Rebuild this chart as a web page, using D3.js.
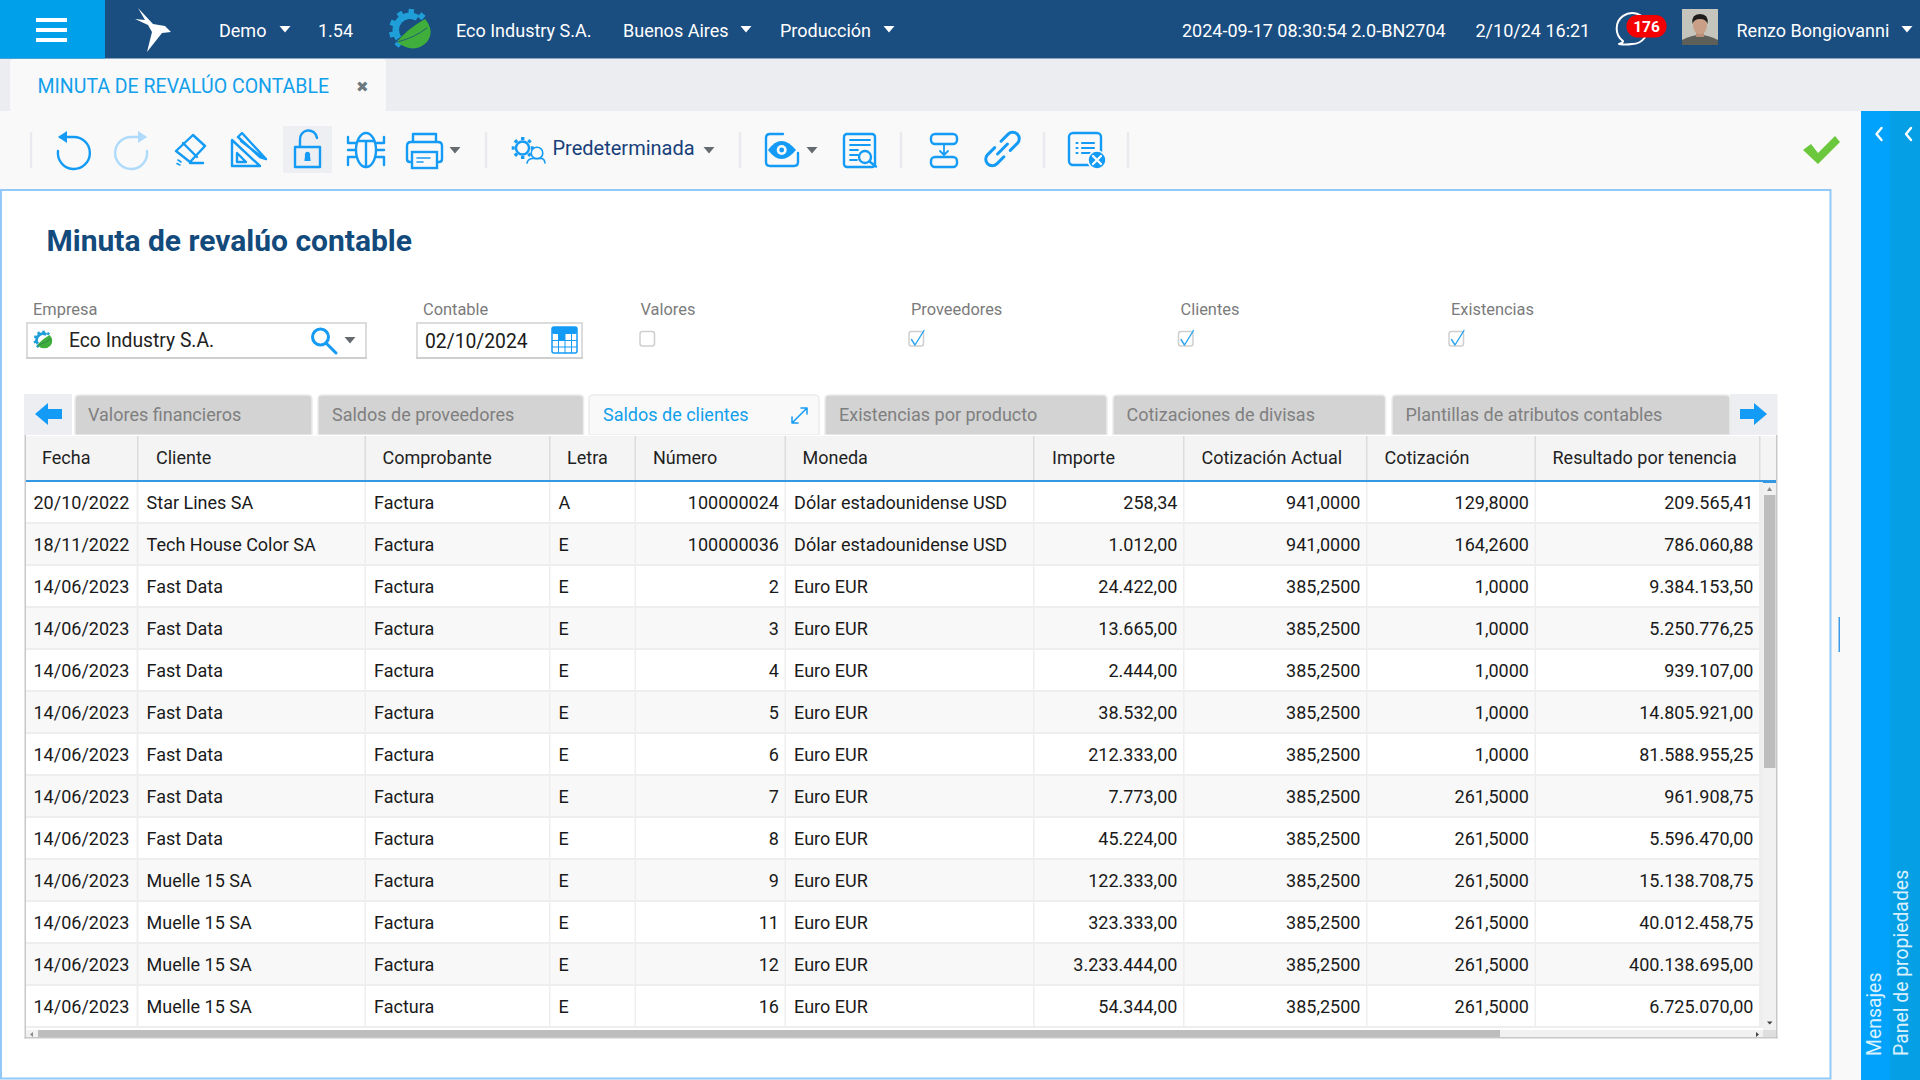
<!DOCTYPE html>
<html>
<head>
<meta charset="utf-8">
<title>Minuta de revalúo contable</title>
<script src="https://cdn.jsdelivr.net/npm/d3@7"></script>
<style>
    html, body { margin: 0; padding: 0; background: #fff; overflow: hidden; }
    svg { display: block; }
    text { font-family: Roboto, sans-serif; }
</style>
</head>
<body>
<svg id="screen" width="1920" height="1080"></svg>
<script>
// Table data.
let columns = ["Fecha", "Cliente", "Comprobante", "Letra", "Número", "Moneda", "Importe", "Cotización Actual", "Cotización", "Resultado por tenencia"];
let fechas = ["20/10/2022", "18/11/2022", "14/06/2023", "14/06/2023", "14/06/2023", "14/06/2023", "14/06/2023", "14/06/2023", "14/06/2023", "14/06/2023", "14/06/2023", "14/06/2023", "14/06/2023"];
let clientes = ["Star Lines SA", "Tech House Color SA", "Fast Data", "Fast Data", "Fast Data", "Fast Data", "Fast Data", "Fast Data", "Fast Data", "Muelle 15 SA", "Muelle 15 SA", "Muelle 15 SA", "Muelle 15 SA"];
let comprobantes = ["Factura", "Factura", "Factura", "Factura", "Factura", "Factura", "Factura", "Factura", "Factura", "Factura", "Factura", "Factura", "Factura"];
let letras = ["A", "E", "E", "E", "E", "E", "E", "E", "E", "E", "E", "E", "E"];
let numeros = [100000024, 100000036, 2, 3, 4, 5, 6, 7, 8, 9, 11, 12, 16];
let monedas = ["Dólar estadounidense USD", "Dólar estadounidense USD", "Euro EUR", "Euro EUR", "Euro EUR", "Euro EUR", "Euro EUR", "Euro EUR", "Euro EUR", "Euro EUR", "Euro EUR", "Euro EUR", "Euro EUR"];
let importes = [258.34, 1012, 24422, 13665, 2444, 38532, 212333, 7773, 45224, 122333, 323333, 3233444, 54344];
let cotizacionesActual = [941, 941, 385.25, 385.25, 385.25, 385.25, 385.25, 385.25, 385.25, 385.25, 385.25, 385.25, 385.25];
let cotizaciones = [129.8, 164.26, 1, 1, 1, 1, 1, 261.5, 261.5, 261.5, 261.5, 261.5, 261.5];
let resultados = [209565.41, 786060.88, 9384153.5, 5250776.25, 939107, 14805921, 81588955.25, 961908.75, 5596470, 15138708.75, 40012458.75, 400138695, 6725070];

let tabs = ["Valores financieros", "Saldos de proveedores", "Saldos de clientes", "Existencias por producto", "Cotizaciones de divisas", "Plantillas de atributos contables"];
let filterLabels = ["Empresa", "Contable", "Valores", "Proveedores", "Clientes", "Existencias"];
let filterChecks = [null, null, false, true, true, true];

// Layout.
let column_edges = [26, 138, 365.5, 550, 635.5, 785.5, 1034, 1184, 1367, 1535.5, 1760];
let tab_edges = [[75, 312, 88], [318, 583.5, 332], [589, 819, 603], [825, 1107, 839], [1113, 1385.5, 1126.5], [1392, 1730, 1405.5]];
let filter_x = [33, 423, 640.5, 911, 1180.5, 1451];
let NAVY = "#1a4d80", SKY = "#00a0ea", ICON = "#149bf5", CARET = "#666b70";

let es = d3.formatLocale({ decimal: ",", thousands: ".", grouping: [3], currency: ["$", ""] });
let money = es.format(",.2f"), rate = es.format(",.4f");

let svg = d3.select("#screen");

function rect(parent, x, y, w, h, fill, rx) {
    return parent.append("rect").attr("x", x).attr("y", y).attr("width", w).attr("height", h)
        .attr("rx", rx || 0).style("fill", fill);
}
function label(parent, x, y, txt, size, fill, anchor, weight) {
    return parent.append("text").attr("x", x).attr("y", y).attr("dominant-baseline", "central")
        .attr("text-anchor", anchor || "start").style("font-size", size + "px")
        .style("font-weight", weight || 400).style("fill", fill).text(txt);
}
function stroke(parent, d, color, width) {
    return parent.append("path").attr("d", d).style("fill", "none").style("stroke", color || ICON)
        .style("stroke-width", width || 2.4).style("stroke-linecap", "round").style("stroke-linejoin", "round");
}
function solid(parent, d, color) {
    return parent.append("path").attr("d", d).style("fill", color);
}
function caret(parent, x, y, color) {
    solid(parent, `M${x - 5.5},${y - 3}H${x + 5.5}L${x},${y + 3.5}Z`, color || CARET);
}

// Backgrounds
rect(svg, 0, 0, 1920, 1080, "#ffffff");
rect(svg, 0, 59, 1920, 52, "#ecedf0");
rect(svg, 0, 111, 1861, 969, "#f9f9f9");
rect(svg, 10, 59, 376, 53, "#f9f9f9", 4);
rect(svg, 1, 190, 1829.5, 888.5, "#ffffff").style("stroke", "#93c9f8").style("stroke-width", 2);
rect(svg, 1838.5, 617, 1.5, 35, "#3d9be8");

// Top bar
let top_bar = svg.append("g");
rect(top_bar, 0, 0, 1920, 58.5, NAVY);
rect(top_bar, 0, 0, 105, 58.5, SKY);
[20, 30, 40].forEach(y => rect(top_bar, 36, y - 2, 31, 4, "#ffffff"));
solid(top_bar, "M138,8L153,24L165,26L171,32L162,33L147,52L152,32L148,25L135,19L145,20Z", "#ffffff");

function ecoLogo(parent, cx, cy, k) {
    let g = parent.append("g").attr("transform", `translate(${cx},${cy}) scale(${k})`);
    let ring = d3.arc().innerRadius(11).outerRadius(17.5).startAngle(-2.2).endAngle(0.55);
    g.append("path").attr("d", ring()).style("fill", "#1f9ed8");
    d3.range(6).forEach(i => {
        let a = (130 + i * 36) * Math.PI / 180;
        g.append("line").attr("x1", 15 * Math.cos(a)).attr("y1", 15 * Math.sin(a))
            .attr("x2", 21 * Math.cos(a)).attr("y2", 21 * Math.sin(a))
            .style("stroke", "#1f9ed8").style("stroke-width", 5.5);
    });
    solid(g, "M-13,12Q-3,-1 15,-11Q25,1 17,12Q4,25 -13,12Z", "#3fae3a");
    stroke(g, "M-13,12Q4,8 17,-2", NAVY, 0.8);
}
ecoLogo(top_bar, 410, 30, 1);

let top_texts = [[219, "Demo"], [318, "1.54"], [456, "Eco Industry S.A."], [623, "Buenos Aires"], [780, "Producción"],
    [1182, "2024-09-17 08:30:54 2.0-BN2704"], [1475.5, "2/10/24 16:21"], [1736.5, "Renzo Bongiovanni"]];
top_texts.forEach(t => label(top_bar, t[0], 30.5, t[1], 18, "#ffffff"));
[285, 746, 889, 1907].forEach(x => caret(top_bar, x, 29, "#ffffff"));

// Chat bubble and badge
stroke(top_bar, "M1623,41A15.5,15.5 0 1 1 1632,44Q1626,45 1619,44Q1623,43 1623,41Z", "#ffffff", 2);
rect(top_bar, 1626.5, 15, 40, 22.5, "#f50000", 11);
label(top_bar, 1646.5, 27, "176", 15.5, "#ffffff", "middle", 700);

// User picture
rect(top_bar, 1682, 9, 36, 36, "#c5c5bd");
solid(top_bar, "M1682,45V40Q1692,35 1700,35Q1708,35 1718,40V45Z", "#5e5f58");
rect(top_bar, 1696, 30, 8, 7, "#b98e76");
top_bar.append("ellipse").attr("cx", 1700).attr("cy", 25).attr("rx", 7).attr("ry", 9.5).style("fill", "#c99f88");
solid(top_bar, "M1692.5,24Q1691,14 1700,14Q1709,14 1707.5,24Q1706,19 1700,19Q1694,19 1692.5,24Z", "#1f1d1c");

// Document tab
label(svg, 37.5, 86, "MINUTA DE REVALÚO CONTABLE", 19.5, "#12a0ec");
label(svg, 362, 87, "✖", 15, "#6c7a80", "middle");

// Toolbar
let bar = svg.append("g");
[31, 486, 740, 901, 1044, 1128].forEach(x => rect(bar, x - 1.2, 132, 2.4, 36, "#e8eaef"));
rect(bar, 283, 126, 49, 47, "#eeeff3");

// undo / redo
stroke(bar, "M60,137H73A16,16 0 1 1 58,151");
solid(bar, "M58,137L67,131V143Z", ICON);
stroke(bar, "M145,137H132A16,16 0 1 0 147,151", "#aedbfb");
solid(bar, "M147,137L138,131V143Z", "#aedbfb");
// eraser
stroke(bar, "M193,135L205,146L190,162L176,151ZM183,143L197,157M190,163H203");
stroke(bar, "M178,160L181,162M177,163.5L180,165", ICON, 1.6);
// ruler and pencil
stroke(bar, "M232,140V166H260ZM237,153V162H246Z");
stroke(bar, "M238,137L242,133L266,159L260,157ZM241,141L263,158");
// lock
stroke(bar, "M295,147H320V167H295ZM300,147V140A8.5,8.5 0 0 1 317,138");
solid(bar, "M305,155.5a2.7,2.7 0 1 1 5,0l0.6,5.5h-6.2Z", ICON);
// bug
bar.append("ellipse").attr("cx", 366).attr("cy", 150).attr("rx", 10).attr("ry", 17).style("fill", "none")
    .style("stroke", ICON).style("stroke-width", 2.4);
stroke(bar, "M358,141H374M366,141V167M348,137V143H356M348,150H355M348,165V157H356M384,137V143H376M384,150H377M384,165V157H376");
// printer
stroke(bar, "M413,142V134H436V142M412,162H410Q407,162 407,159V146Q407,142 411,142H438Q442,142 442,146V159Q442,162 439,162H437");
rect(bar, 412, 152, 25, 16, "#f9f9f9").style("stroke", ICON).style("stroke-width", 2.4);
stroke(bar, "M417,158H430M417,162H423", ICON, 1.6);
caret(bar, 455, 150);

// gear and people
stroke(bar, "M516,148a6.5,6.5 0 1 0 13,0a6.5,6.5 0 1 0 -13,0");
d3.range(8).forEach(i => {
    let a = i * Math.PI / 4;
    bar.append("line").attr("x1", 522.7 + 8 * Math.cos(a)).attr("y1", 148 + 8 * Math.sin(a))
        .attr("x2", 522.7 + 11 * Math.cos(a)).attr("y2", 148 + 11 * Math.sin(a))
        .style("stroke", ICON).style("stroke-width", 3.4);
});
bar.append("circle").attr("cx", 537).attr("cy", 153).attr("r", 5.8).style("fill", "#f9f9f9").style("stroke", ICON).style("stroke-width", 1.6);
stroke(bar, "M527,163Q528,158.5 533,158.5H541Q544.5,158.5 545,163", ICON, 1.6);
label(bar, 552.5, 147.5, "Predeterminada", 20, "#17407a");
caret(bar, 709, 150);

// eye
stroke(bar, "M783,134H770Q766,134 766,138V162Q766,166 770,166H794Q798,166 798,162V153");
solid(bar, "M768,150Q781,132 796,150Q781,168 768,150Z", ICON);
bar.append("circle").attr("cx", 781.7).attr("cy", 150).attr("r", 5).style("fill", "#f9f9f9");
bar.append("circle").attr("cx", 781.7).attr("cy", 150).attr("r", 2.4).style("fill", ICON);
caret(bar, 812, 150);

// document with magnifier
rect(bar, 844, 134, 31, 33, "none", 3).style("stroke", ICON).style("stroke-width", 2.4);
stroke(bar, "M850,140H870M850,145H870M850,150H858M850,155H858M850,160H857", ICON, 1.8);
bar.append("circle").attr("cx", 865).attr("cy", 157).attr("r", 6).style("fill", "#f9f9f9").style("stroke", ICON).style("stroke-width", 2.4);
stroke(bar, "M869.5,161.5L876,166.5");

// flow boxes
rect(bar, 931, 134, 26, 10, "none", 4).style("stroke", ICON).style("stroke-width", 2.4);
rect(bar, 931, 157, 26, 10, "none", 4).style("stroke", ICON).style("stroke-width", 2.4);
stroke(bar, "M944,144V155M940,151L944,155L948,151", ICON, 1.8);

// link
let link = bar.append("g").attr("transform", "translate(1002.5,149) rotate(-45)");
stroke(link, "M-4.5,-6.5H-14.5A6.5,6.5 0 0 0 -14.5,6.5H-4.5", ICON, 3);
stroke(link, "M4.5,6.5H14.5A6.5,6.5 0 0 0 14.5,-6.5H4.5", ICON, 3);
stroke(link, "M-7,0H7", ICON, 3);

// list with x
rect(bar, 1069, 133, 32, 32, "none", 4).style("stroke", ICON).style("stroke-width", 2.4);
stroke(bar, "M1082,143H1094M1082,148H1094M1082,153H1090M1076.5,143H1077.5M1076.5,148H1077.5M1076.5,153H1077.5", ICON, 2.2);
bar.append("circle").attr("cx", 1097).attr("cy", 160).attr("r", 9).style("fill", ICON).style("stroke", "#f9f9f9").style("stroke-width", 1.5);
stroke(bar, "M1093,156L1101,164M1101,156L1093,164", "#ffffff", 2.2);

// green check
solid(bar, "M1803,150L1811,144L1818,153L1835,136L1840,142L1818,164Z", "#6bc73c");

// Right side panels
let side = svg.append("g");
rect(side, 1861, 111, 29, 969, "#00a2fb");
rect(side, 1890, 111, 30, 969, "#059fe6");
[1879, 1908.5].forEach(x => stroke(side, `M${x + 2.5},128L${x - 2.5},134L${x + 2.5},140`, "#ffffff", 2.4));
[[1874, "Mensajes"], [1901, "Panel de propiedades"]].forEach(t => {
    label(side, 0, 0, t[1], 19.4, "#d9f1ff").attr("transform", `translate(${t[0]},1056) rotate(-90)`);
});

// Title
label(svg, 46.5, 240, "Minuta de revalúo contable", 30, "#134a7c", "start", 700);

// Filters
filterLabels.forEach((t, i) => label(svg, filter_x[i], 309, t, 16.4, "#7b7b7b"));
function input(x0, x1) {
    rect(svg, x0 + 1, 323, x1 - x0 - 2, 35, "#ffffff").style("stroke", "#dcdcdc").style("stroke-width", 2);
    rect(svg, x0, 357, x1 - x0, 2, "#cfcfcf");
}
input(26, 367);
input(416, 583);
ecoLogo(svg, 43, 340, 0.45);
label(svg, 69, 340, "Eco Industry S.A.", 19.3, "#222222");
stroke(svg, "M328.5,337a8,8 0 1 1 -16,0a8,8 0 1 1 16,0M326,343L336,353", ICON, 3);
caret(svg, 350, 340);
label(svg, 425, 341, "02/10/2024", 19.3, "#1a1a1a");

// Calendar
rect(svg, 552, 327, 25, 26, "#ffffff", 2).style("stroke", ICON).style("stroke-width", 1.5);
rect(svg, 552, 327, 25, 7, ICON, 2);
[558, 564.5, 571].forEach(x => rect(svg, x, 334, 1, 19, ICON));
[340, 346.5].forEach(y => rect(svg, 552, y, 25, 1, ICON));
rect(svg, 558, 334, 7, 6, ICON);

// Check boxes
filterChecks.forEach((checked, i) => {
    if (checked === null) return;
    let x = i === 2 ? 640 : filter_x[i] - 2;
    rect(svg, x, 331.5, 14.5, 14.5, "#ffffff", 2.5).style("stroke", "#cfcfcf").style("stroke-width", 1.5);
    if (checked) stroke(svg, `M${x + 2.5},339.5L${x + 6},345L${x + 15},330.5`, "#28a4f2", 1.4);
});

// Tab strip
let tab_strip = svg.append("g");
rect(tab_strip, 24, 394, 48, 41, "#eceef2");
rect(tab_strip, 1730, 394, 47.5, 41, "#eceef2");
solid(tab_strip, "M35,414L48,403V409H62V419H48V425Z", ICON);
solid(tab_strip, "M1767,414L1754,403V409H1740V419H1754V425Z", ICON);

tab_strip.selectAll(".tab").data(tabs).join("path")
    .attr("class", "tab")
    .attr("d", (d, i) => {
        let e = tab_edges[i];
        return `M${e[0]},435V399Q${e[0]},395 ${e[0] + 4},395H${e[1] - 4}Q${e[1]},395 ${e[1]},399V435Z`;
    })
    .style("fill", (d, i) => i === 2 ? "#f9f9f9" : "#d3d3d3")
    .style("stroke", "#ececec").style("stroke-width", 1.5);

tab_strip.selectAll(".tablabel").data(tabs).join("text")
    .attr("class", "tablabel")
    .attr("x", (d, i) => tab_edges[i][2])
    .attr("y", 414)
    .attr("dominant-baseline", "central")
    .style("font-size", "18px")
    .style("fill", (d, i) => i === 2 ? "#12a0ec" : "#7f7f7f")
    .text(d => d);
stroke(tab_strip, "M792,423L807,408M792,417V423H798M801,408H807V414", ICON, 1.5);

// Table
let rowCount = fechas.length;
let y = d3.scaleBand().domain(d3.range(rowCount)).range([483, 483 + rowCount * 42]);
let x = d3.scaleOrdinal().domain(columns).range(column_edges);
let nextEdge = d3.scaleOrdinal().domain(columns).range(column_edges.slice(1));

let table = svg.append("g");
rect(table, 24.5, 435, 1752.5, 603.5, "#ffffff");
rect(table, 26, 436, 1750, 44, "#f4f4f4");

table.selectAll(".hdiv").data(columns).join("rect")
    .attr("class", "hdiv")
    .attr("x", d => nextEdge(d) - 1)
    .attr("y", 436)
    .attr("width", 1.5)
    .attr("height", 44)
    .style("fill", "#dcdcdc");

let header_x = [42, 156, 382.5, 567, 653, 802.5, 1052, 1201.5, 1384.5, 1552.5];
table.selectAll(".hlabel").data(columns).join("text")
    .attr("class", "hlabel")
    .attr("x", (d, i) => header_x[i])
    .attr("y", 457.5)
    .attr("dominant-baseline", "central")
    .style("font-size", "18px")
    .style("fill", "#1f1f1f")
    .text(d => d);
rect(table, 25, 480, 1751.5, 3, "#3498e2");

let rows = d3.range(rowCount).map(i => [
    fechas[i], clientes[i], comprobantes[i], letras[i], numeros[i], monedas[i],
    money(importes[i]), rate(cotizacionesActual[i]), rate(cotizaciones[i]), money(resultados[i])
]);
let rightAligned = new Set(["Número", "Importe", "Cotización Actual", "Cotización", "Resultado por tenencia"]);

let row_groups = table.selectAll(".row").data(rows).join("g")
    .attr("class", "row")
    .attr("transform", (d, i) => `translate(0,${y(i)})`);

// Cell backgrounds; the gaps between them make the light grid.
row_groups.append("rect")
    .attr("x", 26).attr("y", -1)
    .attr("width", 1737).attr("height", y.bandwidth())
    .style("fill", "#eeeeee");
row_groups.selectAll(".cell").data((d, i) => columns.map(c => ({ c: c, odd: i % 2 === 1 }))).join("rect")
    .attr("class", "cell")
    .attr("x", d => x(d.c) + (d.c === "Fecha" ? 0 : 0.5))
    .attr("y", -1)
    .attr("width", d => nextEdge(d.c) - x(d.c) - 1.5)
    .attr("height", y.bandwidth() - 2)
    .style("fill", d => d.odd ? "#f8f8f8" : "#ffffff");

row_groups.selectAll(".val").data(d => d.map((v, i) => ({ v: v, c: columns[i] }))).join("text")
    .attr("class", "val")
    .attr("x", d => rightAligned.has(d.c) ? nextEdge(d.c) - 6.6 : x(d.c) + (d.c === "Fecha" ? 7.5 : 8.6))
    .attr("y", y.bandwidth() / 2 - 1.1)
    .attr("dominant-baseline", "central")
    .attr("text-anchor", d => rightAligned.has(d.c) ? "end" : "start")
    .style("font-size", "18px")
    .style("fill", "#1a1a1a")
    .text(d => d.v);

// Scroll bars
rect(table, 1763, 483, 14, 555, "#f1f1f1");
rect(table, 26, 1030, 1751, 8, "#f1f1f1");
rect(table, 1764, 495, 11.5, 273, "#bdbdbd");
rect(table, 38, 1030, 1462, 8, "#bdbdbd");
rect(table, 1763, 1030, 13, 8, "#dedede");
solid(table, "M1769.5,487L1772,491H1767Z", "#8a8a8a");
solid(table, "M1767,1021.5H1772.5L1769.7,1024.5Z", "#444444");
solid(table, "M1756,1032L1759,1034.5L1756,1037Z", "#444444");
solid(table, "M33,1032L30,1034.5L33,1037Z", "#8a8a8a");

// Outer table border
rect(table, 24.5, 435, 1.5, 603.5, "#c8c8c8");
rect(table, 1776, 435, 1.5, 603.5, "#c8c8c8");
rect(table, 24.5, 1037, 1753, 1.5, "#c8c8c8");
</script>
</body>
</html>
